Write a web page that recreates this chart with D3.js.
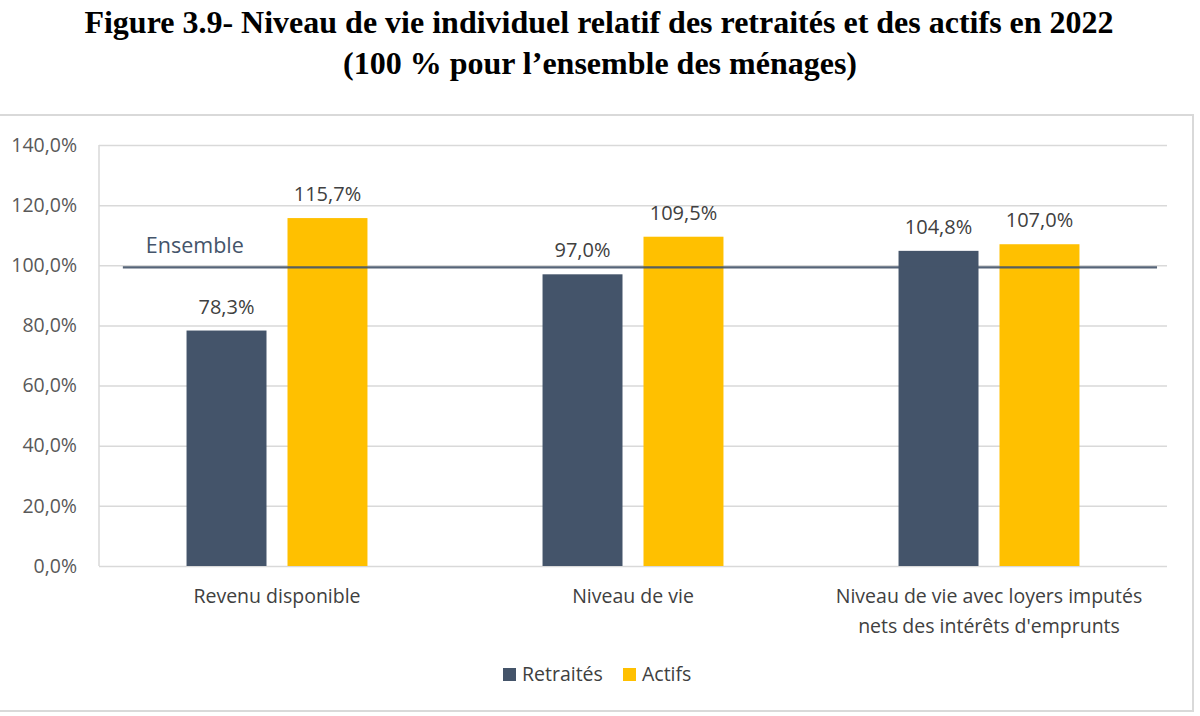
<!DOCTYPE html>
<html><head><meta charset="utf-8">
<script src="https://cdn.jsdelivr.net/npm/d3@7/dist/d3.min.js"></script>
<style>body{margin:0;background:#fff}svg{display:block}</style>
</head><body>
<svg id="c" width="1200" height="716"></svg>
<script>
const categories = [["Revenu disponible"], ["Niveau de vie"], ["Niveau de vie avec loyers imputés", "nets des intérêts d'emprunts"]];
const seriesNames = ["Retraités", "Actifs"];
const retraites = [78.3, 97.0, 104.8];
const actifs = [115.7, 109.5, 107.0];
const labelsRetraites = ["78,3%", "97,0%", "104,8%"];
const labelsActifs = ["115,7%", "109,5%", "107,0%"];
const yTicks = [0, 20, 40, 60, 80, 100, 120, 140];
const ensembleValue = 99.3;
const ensembleSpan = [0.067, 2.972]; // in category units
const colors = ["#44546a", "#ffc000"];

const svg = d3.select("#c");
const M = {left: 99, right: 1167, top: 145, bottom: 566};

// frame
svg.append("rect").attr("x", -2).attr("y", 115).attr("width", 1195).attr("height", 596)
  .attr("fill", "none").attr("stroke", "#d9d9d9").attr("stroke-width", 2);

// title
const title = svg.append("text").attr("text-anchor", "middle")
  .attr("font-family", "Liberation Serif, Times New Roman, serif").attr("font-weight", "bold")
  .attr("font-size", 32).attr("fill", "#000");
title.append("tspan").attr("x", 599).attr("y", 33).text("Figure 3.9- Niveau de vie individuel relatif des retraités et des actifs en 2022");
title.append("tspan").attr("x", 600).attr("y", 74).text("(100 % pour l’ensemble des ménages)");

const y = d3.scaleLinear().domain([0, 140]).range([M.bottom, M.top]);
const x0 = d3.scaleBand().domain(d3.range(categories.length)).range([M.left, M.right]).paddingInner(0).paddingOuter(0);
const xc = d3.scaleLinear().domain([0, categories.length]).range([M.left, M.right]);
const x1 = d3.scaleBand().domain(seriesNames).range([0, x0.bandwidth()]).paddingInner(0.208).paddingOuter(0.867);

const font = "Open Sans, Liberation Sans, Arial, sans-serif";
const fs = 19.5;

// gridlines
const yAxis = d3.axisLeft(y).tickValues(yTicks).tickSize(-(M.right - M.left))
  .tickFormat(d => d3.format(".1f")(d).replace(".", ",") + "%");
const ga = svg.append("g").attr("transform", `translate(${M.left},0)`).call(yAxis);
ga.select(".domain").remove();
ga.selectAll(".tick line").attr("stroke", "#d9d9d9").attr("stroke-width", 1.5);
ga.selectAll(".tick text").attr("x", -22).attr("font-family", font).attr("font-size", fs).attr("fill", "#595959");
// left axis line
svg.append("line").attr("x1", M.left).attr("x2", M.left).attr("y1", M.top).attr("y2", M.bottom)
  .attr("stroke", "#d9d9d9").attr("stroke-width", 1.5);

// bars
const data = categories.map((c, i) => [
  {s: seriesNames[0], v: retraites[i], l: labelsRetraites[i], i},
  {s: seriesNames[1], v: actifs[i], l: labelsActifs[i], i}
]);
const g = svg.append("g");
const grp = g.selectAll("g").data(data).join("g").attr("transform", (d, i) => `translate(${x0(i)},0)`);
grp.selectAll("rect").data(d => d).join("rect")
  .attr("x", d => x1(d.s)).attr("width", x1.bandwidth())
  .attr("y", d => y(d.v)).attr("height", d => y(0) - y(d.v))
  .attr("fill", (d, j) => colors[j]);
grp.selectAll("text").data(d => d).join("text")
  .attr("x", d => x1(d.s) + x1.bandwidth() / 2).attr("y", d => y(d.v) - 17)
  .attr("text-anchor", "middle").attr("font-family", font).attr("font-size", 20).attr("fill", "#404040")
  .text(d => d.l);

// ensemble line
svg.append("line").attr("x1", xc(ensembleSpan[0])).attr("x2", xc(ensembleSpan[1]))
  .attr("y1", y(ensembleValue)).attr("y2", y(ensembleValue))
  .attr("stroke", "#44546a").attr("stroke-width", 2.2).attr("opacity", 0.9);
svg.append("text").attr("x", xc(ensembleSpan[0]) + 23).attr("y", y(ensembleValue) - 14)
  .attr("font-family", font).attr("font-size", 21.5).attr("fill", "#44546a").text("Ensemble");

// category labels
categories.forEach((lines, i) => {
  const t = svg.append("text").attr("text-anchor", "middle").attr("font-family", font)
    .attr("font-size", fs).attr("fill", "#404040");
  lines.forEach((ln, k) => t.append("tspan").attr("x", x0(i) + x0.bandwidth() / 2).attr("y", 603 + k * 30).text(ln));
});

// legend
const leg = svg.append("g");
const legX = [503, 623];
seriesNames.forEach((s, j) => {
  leg.append("rect").attr("x", legX[j]).attr("y", 668).attr("width", 13).attr("height", 13).attr("fill", colors[j]);
  leg.append("text").attr("x", legX[j] + 19).attr("y", 681).attr("font-family", font).attr("font-size", fs)
    .attr("fill", "#404040").text(s);
});
</script>
</body></html>
